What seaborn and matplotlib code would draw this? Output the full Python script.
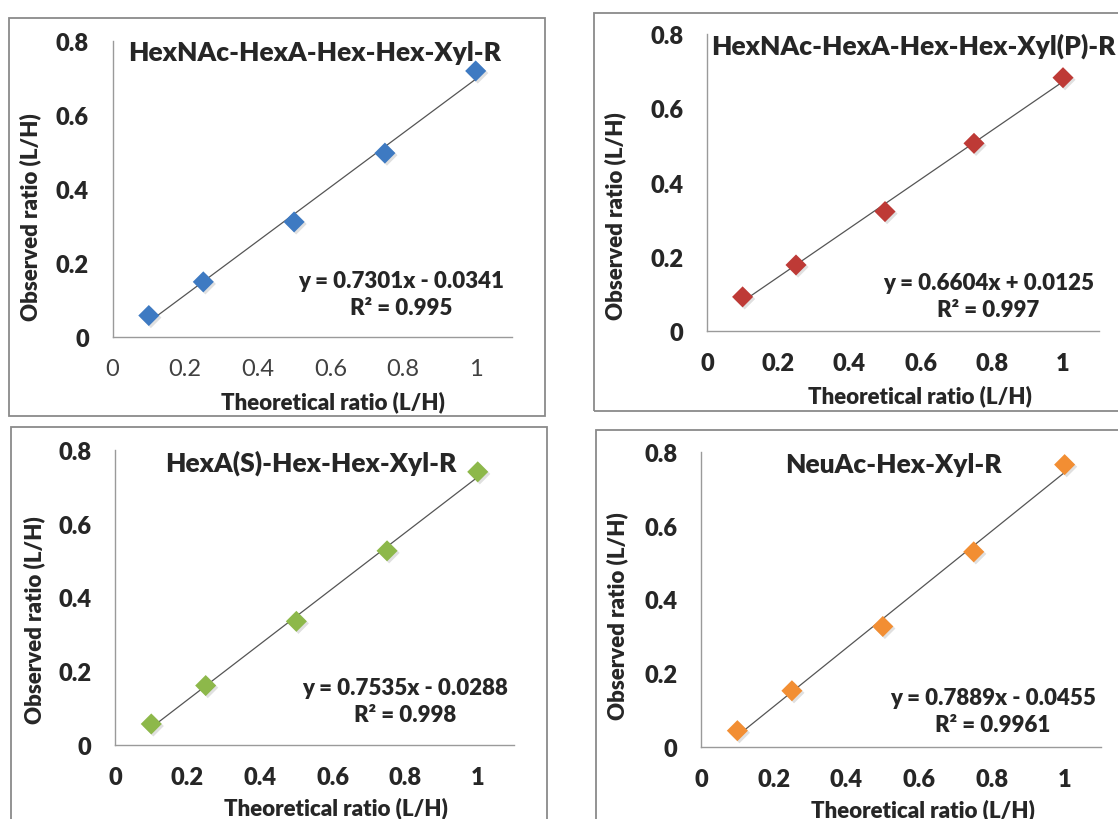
import matplotlib
matplotlib.use("Agg")
import matplotlib.pyplot as plt
from matplotlib.patches import Rectangle
import seaborn as sns
import pandas as pd

# valori
theoretical = [0.1, 0.25, 0.5, 0.75, 1.0]
obs_a = [0.058, 0.149, 0.311, 0.497, 0.719]
obs_b = [0.092, 0.178, 0.322, 0.506, 0.683]
obs_c = [0.057, 0.161, 0.335, 0.526, 0.740]
obs_d = [0.045, 0.153, 0.327, 0.529, 0.765]

titles = ["HexNAc-HexA-Hex-Hex-Xyl-R", "HexNAc-HexA-Hex-Hex-Xyl(P)-R",
          "HexA(S)-Hex-Hex-Xyl-R", "NeuAc-Hex-Xyl-R"]
equations = ["y = 0.7301x - 0.0341\nR² = 0.995", "y = 0.6604x + 0.0125\nR² = 0.997",
             "y = 0.7535x - 0.0288\nR² = 0.998", "y = 0.7889x - 0.0455\nR² = 0.9961"]
colors = ["#3E7AC2", "#BE3A36", "#8DB84A", "#F28E33"]

x_ticks = [0, 0.2, 0.4, 0.6, 0.8, 1]
y_ticks = [0, 0.2, 0.4, 0.6, 0.8]
x_ticklabels = ["0", "0.2", "0.4", "0.6", "0.8", "1"]
y_ticklabels = ["0", "0.2", "0.4", "0.6", "0.8"]

sns.set_style("white")
plt.rcParams["font.family"] = ["Lato", "DejaVu Sans"]

W, H = 1118, 820
fig = plt.figure(figsize=(W / 100, H / 100), dpi=100)


def px_rect(x0, y0, x1, y1):
    return [x0 / W, 1 - y1 / H, (x1 - x0) / W, (y1 - y0) / H]


# layout dei pannelli (pixel)
panels = [
    dict(ax=(112.5, 42, 512, 338), box=(9, 19, 545, 417), title=(0.506, 0.963),
         eq=(0.723, 0.145), ylab=(-0.205, 0.407), xlab=(0.553, -0.216), xbold=False),
    dict(ax=(707, 35.3, 1098.6, 332), box=(594, 14, 1125, 412), title=(0.526, 0.962),
         eq=(0.718, 0.117), ylab=(-0.235, 0.392), xlab=(0.545, -0.218), xbold=True),
    dict(ax=(115, 450.7, 514, 746), box=(11, 428, 547, 830), title=(0.491, 0.959),
         eq=(0.727, 0.148), ylab=(-0.203, 0.427), xlab=(0.554, -0.21), xbold=True),
    dict(ax=(701, 452.7, 1101, 748.3), box=(596, 431, 1125, 830), title=(0.481, 0.958),
         eq=(0.73, 0.124), ylab=(-0.21, 0.447), xlab=(0.555, -0.209), xbold=True),
]
series = [obs_a, obs_b, obs_c, obs_d]

for p, obs, title, eq, col in zip(panels, series, titles, equations, colors):
    bx = p["box"]
    fig.patches.append(Rectangle((bx[0] / W, 1 - bx[3] / H), (bx[2] - bx[0]) / W,
                                 (bx[3] - bx[1]) / H, transform=fig.transFigure,
                                 fill=False, edgecolor="#8a8a8a", lw=1.3))
    ax = fig.add_axes(px_rect(*p["ax"]))
    df = pd.DataFrame({"x": theoretical, "y": obs})
    sns.regplot(data=df, x="x", y="y", ax=ax, scatter=False, ci=None,
                line_kws=dict(color="#555555", lw=0.9))
    # ombra leggera dei marker
    ax.scatter(df["x"], df["y"], marker="D", s=115, color="#000000", alpha=0.12,
               edgecolor="none", zorder=2, clip_on=False,
               transform=ax.transData + matplotlib.transforms.ScaledTranslation(
                   1.5 / 72, -1.5 / 72, fig.dpi_scale_trans))
    sns.scatterplot(data=df, x="x", y="y", ax=ax, marker="D", s=115, color=col,
                    edgecolor="none", zorder=3, clip_on=False)
    ax.set_xlim(0, 1.1)
    ax.set_ylim(0, 0.8)
    ax.set_xticks(x_ticks)
    ax.set_yticks(y_ticks)
    ax.set_xticklabels(x_ticklabels)
    ax.set_yticklabels(y_ticklabels)
    sns.despine(ax=ax)
    for s in ["left", "bottom"]:
        ax.spines[s].set_color("#9a9a9a")
        ax.spines[s].set_linewidth(1.0)
    ax.tick_params(axis="both", direction="out", length=8, width=1.0, color="#9a9a9a")
    ax.tick_params(axis="y", pad=9, labelsize=17)
    ax.tick_params(axis="x", pad=7, labelsize=17)
    for t in ax.get_yticklabels():
        t.set_fontweight("heavy")
    for t in ax.get_xticklabels():
        if p["xbold"]:
            t.set_fontweight("heavy")
        else:
            t.set_color("#404040")
    ax.set_xlabel("Theoretical ratio (L/H)", fontsize=16, fontweight="heavy", va="center")
    ax.set_ylabel("Observed ratio (L/H)", fontsize=16, fontweight="heavy", va="center")
    ax.xaxis.set_label_coords(*p["xlab"])
    ax.yaxis.set_label_coords(*p["ylab"])
    ax.text(*p["title"], title, transform=ax.transAxes, ha="center", va="center",
            fontsize=19, fontweight="heavy")
    ax.text(*p["eq"], eq, transform=ax.transAxes, ha="center", va="center",
            multialignment="center", fontsize=16, fontweight="heavy", linespacing=1.35)
    ax.patch.set_alpha(0)

fig.savefig("out.png", dpi=100)
